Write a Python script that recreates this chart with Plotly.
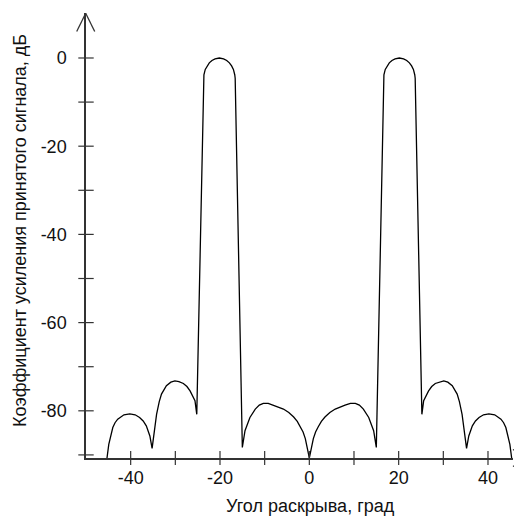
import plotly.graph_objects as go

# Curve (angle, gain in dB)
angle = [-45.3, -44.9, -44.0, -43.5, -42.9, -41.5, -40.2, -39.0, -38.0, -37.2, -36.5, -35.7, -35.2,
         -34.8, -34.2, -33.6, -33.1, -32.0, -31.0, -30.1, -29.2, -28.2, -27.4, -26.7, -25.6, -25.2,
         -23.7, -23.6, -23.3, -22.9, -22.4, -21.8, -21.1, -20.15, -19.2, -18.5, -17.9, -17.4, -17.0,
         -16.7, -16.6,
         -15.0, -14.4, -13.3, -12.1, -11.2, -10.3, -9.2, -8.0, -6.9, -5.8, -4.6, -3.5, -2.7, -2.0,
         -1.4, -0.9, 0.0,
         0.9, 1.4, 2.0, 2.7, 3.5, 4.6, 5.8, 6.9, 8.0, 9.2, 10.3, 11.2, 12.1, 13.3, 14.4, 15.0,
         16.6, 16.7, 17.0, 17.4, 17.9, 18.5, 19.2, 20.15, 21.1, 21.8, 22.4, 22.9, 23.3, 23.6, 23.7,
         25.2, 25.6, 26.7, 27.4, 28.2, 29.2, 30.1, 31.0, 32.0, 33.1, 33.6, 34.2, 34.8,
         35.2, 35.7, 36.5, 37.2, 38.0, 39.0, 40.2, 41.5, 42.9, 43.5, 44.0, 44.9, 45.3]
gain = [-90.7, -87.6, -83.8, -82.7, -81.9, -80.9, -80.7, -80.9, -81.5, -82.3, -83.4, -85.7, -88.5,
        -85.3, -80.8, -77.9, -76.2, -74.3, -73.5, -73.2, -73.4, -73.8, -74.5, -75.5, -77.7, -80.8,
        -4.6, -3.8, -2.6, -1.8, -1.1, -0.56, -0.2, 0.0, -0.2, -0.56, -1.1, -1.8, -2.6,
        -3.8, -4.6,
        -88.3, -84.5, -81.5, -79.6, -78.7, -78.3, -78.3, -78.7, -79.1, -79.6, -80.4, -81.4, -82.4, -83.6,
        -84.8, -86.3, -90.7,
        -86.3, -84.8, -83.6, -82.4, -81.4, -80.4, -79.6, -79.1, -78.7, -78.3, -78.3, -78.7, -79.6, -81.5, -84.5, -88.3,
        -4.6, -3.8, -2.6, -1.8, -1.1, -0.56, -0.2, 0.0, -0.2, -0.56, -1.1, -1.8, -2.6, -3.8, -4.6,
        -80.8, -77.7, -75.5, -74.5, -73.8, -73.4, -73.2, -73.5, -74.3, -76.2, -77.9, -80.8, -85.3,
        -88.5, -85.7, -83.4, -82.3, -81.5, -80.9, -80.7, -80.9, -81.9, -82.7, -83.8, -87.6, -90.7]

x_ticks = [-40, -20, 0, 20, 40]
x_minor = [-30, -10, 10, 30]
y_ticks = [-80, -60, -40, -20, 0]
y_minor = [-90, -70, -50, -30, -10]

x_title = "Угол раскрыва, град"
y_title = "Коэффициент усиления принятого сигнала, дБ"

# The page adds an 8 px body margin, so the figure is drawn 8 px smaller
OFF = 8
W, H = 522 - OFF, 521 - OFF
L, R, T, B = 86 - OFF, 9, 13 - OFF, 63
XR = [-50, 45.6]
YR = [-90.7, 10.2]
pw, ph = W - L - R, H - T - B


def px(xp):  # xp: pixel position in the reference picture
    return (xp - OFF - L) / pw


def py(yp):
    return (H - B - (yp - OFF)) / ph


FONT = "Liberation Sans, Arial, sans-serif"
AX = "#333333"
FS = 18

fig = go.Figure()
fig.add_trace(go.Scatter(x=angle, y=gain, mode="lines",
                         line=dict(color="black", width=1.3),
                         showlegend=False, hoverinfo="skip"))
# y-axis tick marks crossing the axis
fig.add_trace(go.Scatter(x=[XR[0]] * (len(y_ticks) + len(y_minor)),
                         y=y_ticks + y_minor, mode="markers",
                         marker=dict(symbol="line-ew", size=11,
                                     line=dict(color=AX, width=1.2)),
                         cliponaxis=False, showlegend=False, hoverinfo="skip"))
# x-axis tick marks crossing the axis
fig.add_trace(go.Scatter(x=x_ticks + x_minor,
                         y=[YR[0]] * (len(x_ticks) + len(x_minor)),
                         mode="markers",
                         marker=dict(symbol="line-ns", size=10,
                                     line=dict(color=AX, width=1.2)),
                         cliponaxis=False, showlegend=False, hoverinfo="skip"))

shapes = []
# y arrow head
for xa in (76.7, 94.7):
    shapes.append(dict(type="line", xref="paper", yref="paper",
                       x0=px(xa), y0=py(31.5), x1=px(85.7), y1=py(13.2),
                       line=dict(color=AX, width=1.3)))
# x arrow head
for ya in (449.5, 466.5):
    shapes.append(dict(type="line", xref="paper", yref="paper",
                       x0=px(513), y0=py(ya), x1=px(527), y1=py(458),
                       line=dict(color=AX, width=1.3)))

fig.update_layout(
    width=W, height=H,
    margin=dict(l=L, r=R, t=T, b=B, autoexpand=False),
    paper_bgcolor="white", plot_bgcolor="white",
    font=dict(family=FONT, size=FS, color="#111111"),
    shapes=shapes,
    xaxis=dict(range=XR, showgrid=False, zeroline=False, automargin=False,
               showline=True, linecolor=AX, linewidth=1.5,
               tickvals=x_ticks, ticktext=[str(v) for v in x_ticks],
               ticks="", ticklabelstandoff=3, tickfont=dict(size=FS)),
    yaxis=dict(range=YR, showgrid=False, zeroline=False, automargin=False,
               showline=True, linecolor=AX, linewidth=1.5,
               tickvals=y_ticks, ticktext=[str(v) for v in y_ticks],
               ticks="", ticklabelstandoff=14, tickfont=dict(size=FS)),
    annotations=[
        dict(text=x_title, xref="paper", yref="paper",
             x=px(310), y=py(506), xanchor="center", yanchor="middle",
             showarrow=False, font=dict(size=FS)),
        dict(text=y_title, xref="paper", yref="paper",
             x=px(20), y=py(231), xanchor="center", yanchor="middle",
             textangle=-90, showarrow=False, font=dict(size=FS)),
    ],
)

fig.write_html("out.html")
